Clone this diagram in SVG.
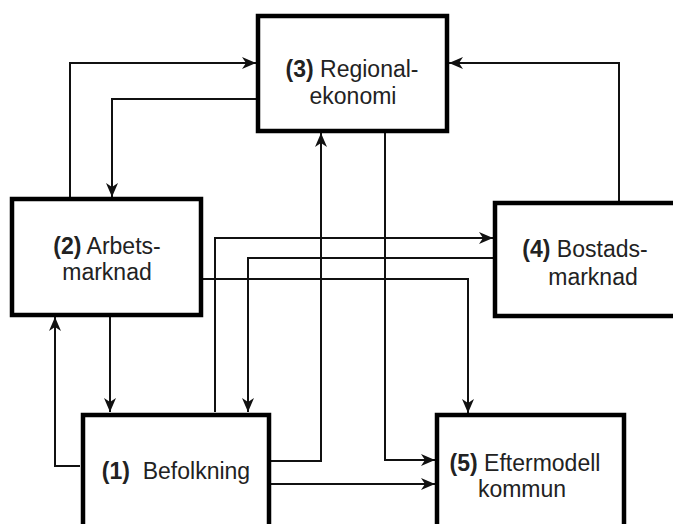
<svg xmlns="http://www.w3.org/2000/svg" width="673" height="524" viewBox="0 0 673 524">
<style>
.box{fill:#fff;stroke:#000;stroke-width:4.5}
.lbl{font-family:"Liberation Sans",Arial,sans-serif;font-size:23px;fill:#222;text-anchor:middle}
.b{font-weight:bold}
.c{fill:none;stroke:#111;stroke-width:2;marker-end:url(#ah)}
</style>
<defs>
<marker id="ah" viewBox="0 0 14 12" refX="14" refY="6" markerWidth="14" markerHeight="12" markerUnits="userSpaceOnUse" orient="auto">
<path d="M0,0 L14,6 L0,12 L4,6 z" fill="#111"/>
</marker>
</defs>
<rect width="673" height="524" fill="#fff"/>
<g id="connectors">
<path class="c" d="M70,197 V63 H256"/>
<path class="c" d="M256,99 H112 V197"/>
<path class="c" d="M619,201 V63 H449"/>
<path class="c" d="M385,133 V460 H435"/>
<path class="c" d="M271,461 H321 V133"/>
<path class="c" d="M271,484 H435"/>
<path class="c" d="M80,466 H55 V317"/>
<path class="c" d="M110,317 V412"/>
<path class="c" d="M215,412 V238 H493"/>
<path class="c" d="M493,258 H248 V412"/>
<path class="c" d="M203,279 H468 V413"/>
</g>
<g id="node3">
<rect class="box" x="258" y="16" width="189" height="115"/>
<text class="lbl" x="352" y="77"><tspan class="b">(3)</tspan> Regional-</text>
<text class="lbl" x="353" y="104">ekonomi</text>
</g>
<g id="node2">
<rect class="box" x="12" y="199" width="189" height="116"/>
<text class="lbl" x="107" y="254"><tspan class="b">(2)</tspan> Arbets-</text>
<text class="lbl" x="107" y="280">marknad</text>
</g>
<g id="node4">
<rect class="box" x="495" y="203" width="200" height="113"/>
<text class="lbl" x="585" y="257"><tspan class="b">(4)</tspan> Bostads-</text>
<text class="lbl" x="593" y="285">marknad</text>
</g>
<g id="node1">
<rect class="box" x="83" y="415" width="186" height="130"/>
<text class="lbl" x="176" y="479" xml:space="preserve"><tspan class="b">(1)</tspan>  Befolkning</text>
</g>
<g id="node5">
<rect class="box" x="437" y="415" width="187" height="130"/>
<text class="lbl" x="525" y="471"><tspan class="b">(5)</tspan> Eftermodell</text>
<text class="lbl" x="522" y="497">kommun</text>
</g>
</svg>
